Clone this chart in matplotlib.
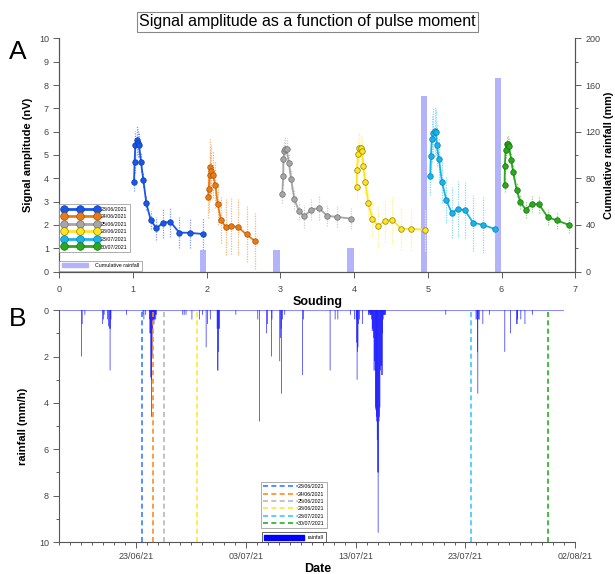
import numpy as np
import pandas as pd
import matplotlib
matplotlib.use('Agg')
import matplotlib.pyplot as plt
import matplotlib.dates as mdates
from matplotlib.lines import Line2D
from matplotlib.patches import Patch

plt.rcParams['font.family'] = ['Liberation Sans', 'DejaVu Sans']

# ---- panel A data ----
labels = ['23/06/2021', '24/06/2021', '25/06/2021', '28/06/2021', '23/07/2021', '30/07/2021']
colors = ['#1a56e8', '#ec7a12', '#a6a6a6', '#ffe51f', '#17b4ec', '#2aa81e']
edges = ['#0a3cb0', '#a85200', '#6e6e6e', '#8c7d00', '#0b7fae', '#16700f']
err_colors = ['#7f9cf5', '#f9b47a', '#cccccc', '#fff08a', '#8ad8f7', '#8ed883']

x1 = [1.014, 1.022, 1.031, 1.049, 1.068, 1.082, 1.109, 1.140, 1.181, 1.240, 1.317, 1.409, 1.508, 1.627, 1.767, 1.948]
y1 = [3.85, 4.72, 5.43, 5.65, 5.52, 5.43, 4.69, 3.93, 2.93, 2.21, 1.86, 2.09, 2.13, 1.67, 1.66, 1.61]
e1 = [0.4, 0.5, 0.6, 0.65, 0.6, 0.5, 0.4, 0.3, 0.3, 0.4, 0.5, 0.65, 0.65, 0.65, 0.65, 0.7]

x2 = [2.018, 2.026, 2.040, 2.049, 2.063, 2.080, 2.117, 2.149, 2.193, 2.257, 2.330, 2.430, 2.540, 2.657]
y2 = [3.18, 3.56, 4.13, 4.49, 4.32, 4.16, 3.73, 2.90, 2.21, 1.91, 1.97, 1.89, 1.59, 1.30]
e2 = [0.9, 1.0, 1.1, 1.2, 1.1, 1.0, 1.0, 0.9, 1.0, 1.2, 1.2, 1.2, 1.2, 1.2]

x3 = [3.025, 3.038, 3.040, 3.052, 3.065, 3.084, 3.116, 3.147, 3.188, 3.252, 3.320, 3.416, 3.520, 3.633, 3.774, 3.956]
y3 = [3.32, 4.10, 4.81, 5.15, 5.26, 5.25, 4.64, 3.95, 3.10, 2.60, 2.37, 2.64, 2.73, 2.39, 2.34, 2.27]
e3 = [0.4, 0.4, 0.5, 0.5, 0.5, 0.5, 0.4, 0.4, 0.4, 0.4, 0.5, 0.45, 0.5, 0.45, 0.45, 0.45]

x4 = [4.033, 4.038, 4.052, 4.070, 4.087, 4.106, 4.124, 4.151, 4.192, 4.247, 4.324, 4.414, 4.515, 4.638, 4.778, 4.959]
y4 = [3.61, 4.36, 5.03, 5.32, 5.32, 5.18, 4.51, 3.85, 2.93, 2.27, 1.96, 2.17, 2.23, 1.83, 1.83, 1.79]
e4 = [0.5, 0.6, 0.6, 0.67, 0.6, 0.6, 0.5, 0.5, 0.6, 0.8, 0.9, 0.9, 1.0, 0.9, 0.9, 0.9]

x5 = [5.032, 5.041, 5.054, 5.073, 5.091, 5.109, 5.123, 5.150, 5.191, 5.251, 5.323, 5.405, 5.500, 5.613, 5.745, 5.913]
y5 = [4.08, 4.96, 5.68, 5.95, 6.02, 5.98, 5.41, 4.83, 3.86, 3.06, 2.52, 2.67, 2.64, 2.10, 2.00, 1.82]
e5 = [0.8, 0.9, 1.0, 1.05, 1.05, 1.0, 0.9, 0.9, 0.9, 1.0, 1.1, 1.2, 1.2, 1.2, 1.2, 1.2]

x6 = [6.041, 6.045, 6.055, 6.068, 6.086, 6.100, 6.131, 6.158, 6.204, 6.253, 6.327, 6.409, 6.508, 6.627, 6.753, 6.921]
y6 = [3.70, 4.53, 5.21, 5.45, 5.48, 5.39, 4.78, 4.27, 3.51, 3.00, 2.66, 2.89, 2.88, 2.33, 2.19, 1.99]
e6 = [0.3, 0.35, 0.35, 0.37, 0.37, 0.35, 0.3, 0.3, 0.3, 0.3, 0.35, 0.35, 0.35, 0.35, 0.35, 0.35]

series_x = [x1, x2, x3, x4, x5, x6]
series_y = [y1, y2, y3, y4, y5, y6]
series_e = [e1, e2, e3, e4, e5, e6]

cum_x = [1.95, 2.95, 3.95, 4.95, 5.95]
cum_rain = [18.5, 18.5, 20, 151, 166]

# ---- panel B data ----
sounding_dates = ['2021-06-23 12:00', '2021-06-24 12:00', '2021-06-25 12:00',
                  '2021-06-28 12:00', '2021-07-23 12:00', '2021-07-30 12:00']
dash_colors = ['#3d7bff', '#ff8a24', '#b8b8b8', '#ffe733', '#3cc8ff', '#26b01e']

# hourly rainfall (mm/h), only the non-zero hours
rain = [
    ('2021-06-18 01:00', 2.0), ('2021-06-18 02:00', 0.6), ('2021-06-18 08:00', 0.2),
    ('2021-06-19 22:00', 0.6), ('2021-06-20 01:00', 0.4), ('2021-06-20 02:00', 0.2),
    ('2021-06-20 09:00', 0.4), ('2021-06-20 12:00', 0.7), ('2021-06-20 14:00', 0.8),
    ('2021-06-20 15:00', 2.6), ('2021-06-20 16:00', 0.8), ('2021-06-20 17:00', 0.4),
    ('2021-06-22 03:00', 0.2),
    ('2021-06-23 15:00', 0.2), ('2021-06-23 17:00', 0.4), ('2021-06-23 21:00', 0.2),
    ('2021-06-24 05:00', 0.4), ('2021-06-24 06:00', 1.0), ('2021-06-24 07:00', 1.0),
    ('2021-06-24 08:00', 2.9), ('2021-06-24 09:00', 3.0), ('2021-06-24 10:00', 4.6),
    ('2021-06-24 11:00', 2.0), ('2021-06-24 12:00', 1.0), ('2021-06-24 13:00', 0.6),
    ('2021-06-24 14:00', 0.4), ('2021-06-24 15:00', 0.6), ('2021-06-24 16:00', 0.4),
    ('2021-06-24 17:00', 0.4), ('2021-06-24 18:00', 0.2), ('2021-06-24 19:00', 0.4),
    ('2021-06-24 20:00', 0.2),
    ('2021-06-27 06:00', 0.2), ('2021-06-27 09:00', 0.2), ('2021-06-27 13:00', 0.2),
    ('2021-06-28 02:00', 0.4), ('2021-06-28 18:00', 0.4), ('2021-06-29 01:00', 0.2),
    ('2021-06-29 09:00', 1.6), ('2021-06-29 12:00', 0.6), ('2021-06-29 18:00', 0.4),
    ('2021-06-30 09:00', 0.8), ('2021-06-30 10:00', 2.6), ('2021-06-30 11:00', 2.6),
    ('2021-06-30 12:00', 1.8), ('2021-06-30 13:00', 0.8), ('2021-06-30 14:00', 0.8),
    ('2021-07-02 02:00', 0.2),
    ('2021-07-04 02:00', 0.4), ('2021-07-04 06:00', 4.8), ('2021-07-04 21:00', 1.0),
    ('2021-07-04 23:00', 0.6), ('2021-07-05 08:00', 2.0), ('2021-07-05 09:00', 0.4),
    ('2021-07-06 02:00', 2.2), ('2021-07-06 04:00', 1.2), ('2021-07-06 05:00', 0.8),
    ('2021-07-06 06:00', 3.6), ('2021-07-06 08:00', 0.4), ('2021-07-06 13:00', 0.2),
    ('2021-07-08 04:00', 2.8), ('2021-07-08 06:00', 0.4), ('2021-07-10 16:00', 2.6),
    ('2021-07-11 03:00', 0.4), ('2021-07-11 09:00', 0.4), ('2021-07-12 13:00', 0.2),
    ('2021-07-12 21:00', 0.4),
    ('2021-07-13 01:00', 0.4), ('2021-07-13 02:00', 1.4), ('2021-07-13 03:00', 3.0),
    ('2021-07-13 04:00', 1.8), ('2021-07-13 05:00', 1.6), ('2021-07-13 06:00', 0.6),
    ('2021-07-13 08:00', 0.4), ('2021-07-13 15:00', 0.6),
    ('2021-07-14 04:00', 0.2), ('2021-07-14 05:00', 0.2), ('2021-07-14 06:00', 0.1),
    ('2021-07-14 07:00', 0.2), ('2021-07-14 08:00', 0.2), ('2021-07-14 09:00', 0.2),
    ('2021-07-14 10:00', 0.2), ('2021-07-14 11:00', 0.4), ('2021-07-14 12:00', 0.9),
    ('2021-07-14 13:00', 0.8), ('2021-07-14 14:00', 0.9), ('2021-07-14 15:00', 1.2),
    ('2021-07-14 16:00', 2.6), ('2021-07-14 17:00', 2.2), ('2021-07-14 18:00', 2.6),
    ('2021-07-14 19:00', 4.2), ('2021-07-14 20:00', 4.3), ('2021-07-14 21:00', 4.6),
    ('2021-07-14 22:00', 4.8), ('2021-07-14 23:00', 5.6), ('2021-07-15 00:00', 7.0),
    ('2021-07-15 01:00', 9.6), ('2021-07-15 02:00', 7.0), ('2021-07-15 03:00', 4.8),
    ('2021-07-15 04:00', 4.6), ('2021-07-15 05:00', 4.2), ('2021-07-15 06:00', 2.6),
    ('2021-07-15 07:00', 2.4), ('2021-07-15 08:00', 2.8), ('2021-07-15 09:00', 2.4),
    ('2021-07-15 10:00', 1.0), ('2021-07-15 11:00', 2.8), ('2021-07-15 12:00', 0.4),
    ('2021-07-15 13:00', 0.2), ('2021-07-15 14:00', 0.2), ('2021-07-15 15:00', 0.2),
    ('2021-07-15 16:00', 0.2), ('2021-07-15 17:00', 0.2),
    ('2021-07-21 05:00', 0.2),
    ('2021-07-23 23:00', 0.4), ('2021-07-24 01:00', 0.4), ('2021-07-24 02:00', 1.8),
    ('2021-07-24 03:00', 3.6), ('2021-07-24 04:00', 0.4), ('2021-07-24 06:00', 0.4),
    ('2021-07-24 14:00', 0.6), ('2021-07-25 04:00', 0.2), ('2021-07-26 14:00', 1.8),
    ('2021-07-27 02:00', 1.0), ('2021-07-27 16:00', 0.6), ('2021-07-27 17:00', 0.6),
    ('2021-07-27 18:00', 0.4), ('2021-07-28 01:00', 0.4), ('2021-07-28 10:00', 0.6),
    ('2021-07-29 02:00', 0.2)]
rain_times = [t for t, v in rain]
rain_vals = [v for t, v in rain]
rain_start, rain_end = '2021-06-16 00:00', '2021-07-31 22:00'

fig = plt.figure(figsize=(6.15, 5.74), dpi=100)

# ================= panel A =================
ax = fig.add_axes([0.0964, 0.527, 0.839, 0.406])
ax2 = ax.twinx()
ax2.bar(cum_x, cum_rain, width=0.09, color='#b3b3fb', zorder=1)
ax.set_zorder(ax2.get_zorder() + 1)
ax.patch.set_visible(False)

for xs, ys, es, erc in zip(series_x, series_y, series_e, err_colors):
    eb = ax.errorbar(xs, ys, yerr=es, fmt='none', ecolor=erc, elinewidth=0.9,
                     capsize=0, zorder=2)
    eb[2][0].set_linestyle((0, (1, 1)))
for xs, ys, c, ec, lab in zip(series_x, series_y, colors, edges, labels):
    ax.plot(xs, ys, '-o', color=c, lw=1.3, ms=4, mfc=c, mec=ec, mew=0.5,
            label=lab, zorder=3)

ax.set_xlim(0, 7)
ax.set_ylim(0, 10)
ax2.set_ylim(0, 200)
ax.set_yticks(range(11))
ax2.set_yticks(range(0, 201, 40))
ax2.set_yticks(range(0, 201, 20), minor=True)
ax.set_xticks(range(8))

for a in (ax, ax2):
    a.spines['top'].set_visible(False)
    for s in a.spines.values():
        s.set_color('#555555')
        s.set_linewidth(0.8)
    a.tick_params(labelsize=6.5, colors='#444444', length=4, width=0.6)
    a.tick_params(which='minor', length=2.5, width=0.6, colors='#444444')
ax.tick_params(axis='x', pad=6)

ax.set_xlabel('Souding', fontsize=9, fontweight='bold', labelpad=1)
ax.set_ylabel('Signal amplitude (nV)', fontsize=8, fontweight='bold', labelpad=4)
ax2.set_ylabel('Cumulative rainfall (mm)', fontsize=7.8, fontweight='bold', labelpad=2)

leg1 = ax.legend(loc='lower left', bbox_to_anchor=(0.0, 0.083), fontsize=3.8,
                 numpoints=3, handlelength=7, handleheight=1.0, labelspacing=0.45,
                 borderpad=0.5, handletextpad=0.3, frameon=True, fancybox=False,
                 edgecolor='#888888', borderaxespad=0)
for h in leg1.legend_handles:
    h.set_markersize(5.5)
    h.set_linewidth(2)
leg1.get_frame().set_linewidth(0.6)
ax.add_artist(leg1)
leg2 = ax.legend(handles=[Patch(color='#b3b3fb', label='Cumulative rainfall')],
                 loc='lower left', bbox_to_anchor=(0.0, 0.003), fontsize=3.8,
                 handlelength=5, handleheight=0.8, borderpad=0.5, handletextpad=1.2,
                 frameon=True, fancybox=False, edgecolor='#888888', borderaxespad=0)
leg2.get_frame().set_linewidth(0.6)

fig.text(0.5, 0.962, 'Signal amplitude as a function of pulse moment', ha='center',
         va='center', fontsize=11.5,
         bbox=dict(boxstyle='square,pad=0.15', fc='white', ec='#888888', lw=0.8))
fig.text(0.015, 0.91, 'A', fontsize=19, va='center')
fig.text(0.015, 0.445, 'B', fontsize=19, va='center')

# ================= panel B =================
bx = fig.add_axes([0.0964, 0.0557, 0.839, 0.404])
rt = pd.to_datetime(rain_times)
bx.plot(pd.to_datetime([rain_start, rain_end]), [0, 0], color='#8c8cff', lw=1.5, zorder=2)
bx.bar(rt, rain_vals, width=1 / 24 * 1.3, color='#0000ff', linewidth=0,
       snap=False, zorder=3)
for d, c in zip(pd.to_datetime(sounding_dates), dash_colors):
    bx.axvline(d, color=c, ls=(0, (3, 2)), lw=1.2, zorder=4)

bx.set_xlim(pd.Timestamp('2021-06-16'), pd.Timestamp('2021-08-02'))
bx.set_ylim(10, 0)
bx.set_yticks(range(0, 11, 2))
bx.set_yticks(range(1, 10, 2), minor=True)
bx.set_xticks(pd.to_datetime(['2021-06-23', '2021-07-03', '2021-07-13', '2021-07-23', '2021-08-02']))
bx.xaxis.set_major_formatter(mdates.DateFormatter('%d/%m/%y'))
bx.xaxis.set_minor_locator(mdates.DayLocator())
for s in ('top', 'right'):
    bx.spines[s].set_visible(False)
for s in bx.spines.values():
    s.set_color('#555555')
    s.set_linewidth(0.8)
bx.tick_params(labelsize=6.5, colors='#444444', length=4, width=0.6)
bx.tick_params(which='minor', length=2.5, width=0.6, colors='#444444')
bx.set_xlabel('Date', fontsize=9, fontweight='bold', labelpad=1)
bx.set_ylabel('rainfall (mm/h)', fontsize=8, fontweight='bold', labelpad=8)

dash_handles = [Line2D([], [], color=c, ls=(0, (3, 2)), lw=1.2, label=l)
                for c, l in zip(dash_colors, labels)]
leg3 = bx.legend(handles=dash_handles, loc='lower center', bbox_to_anchor=(0.455, 0.06),
                 fontsize=3.8, handlelength=6.5, labelspacing=0.45, borderpad=0.4,
                 handletextpad=0.1, frameon=True, fancybox=False, edgecolor='#888888',
                 borderaxespad=0)
leg3.get_frame().set_linewidth(0.6)
bx.add_artist(leg3)
leg4 = bx.legend(handles=[Patch(color='#0000ff', label='rainfall')], loc='lower center',
                 bbox_to_anchor=(0.455, 0.0), fontsize=3.8, handlelength=7.5,
                 handleheight=1.1, borderpad=0.4, handletextpad=0.8, frameon=True,
                 fancybox=False, edgecolor='#222222', borderaxespad=0)
leg4.get_frame().set_linewidth(0.6)

fig.savefig('out.png', dpi=100)
